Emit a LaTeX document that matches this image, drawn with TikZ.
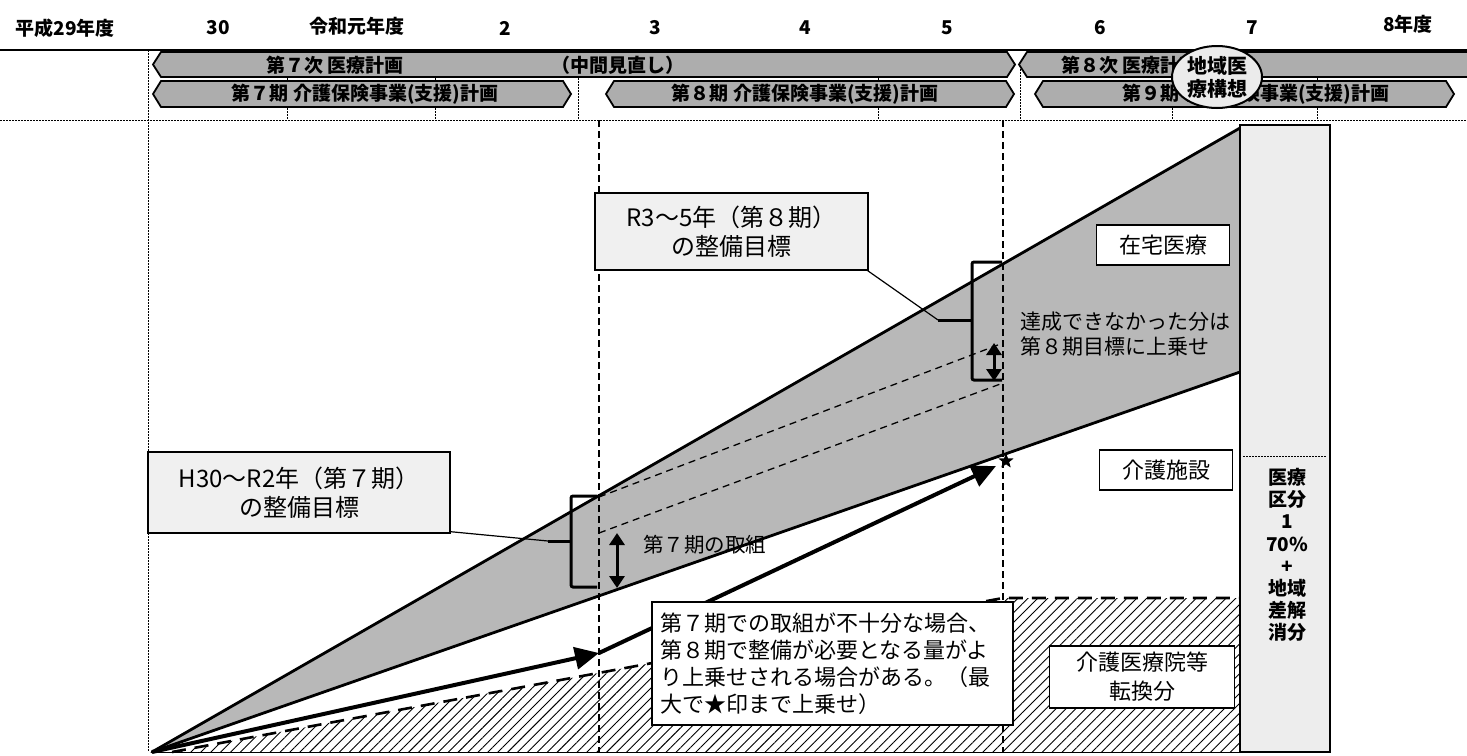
\documentclass[tikz,border=0pt]{standalone}
\usepackage{fontspec}
\setmainfont{Noto Sans CJK JP}
\usetikzlibrary{arrows.meta,shapes.geometric,patterns.meta}
\newcommand\planbar[4]{%
  \draw[planbarstyle] (#1,{(#3+#4)/2}) -- (#1+8,#3) -- (#2-8,#3) -- (#2,{(#3+#4)/2}) -- (#2-8,#4) -- (#1+8,#4) -- cycle;}
\begin{document}
\begin{tikzpicture}[x=1pt,y=-1pt,
  planbarstyle/.style={draw=black,line width=1.8pt,fill=black!32},
  yr/.style={font=\fontsize{19}{22}\selectfont\bfseries,inner sep=0},
  bartxt/.style={font=\fontsize{19}{22}\selectfont\bfseries,inner sep=0},
  dotln/.style={line width=0.9pt,dash pattern=on 1.5pt off 1.5pt},
  dashv/.style={line width=1.6pt,dash pattern=on 7pt off 4pt},
  bandln/.style={line width=2.8pt,line cap=round},
  dashin/.style={line width=1.3pt,dash pattern=on 7pt off 5pt},
  brk/.style={line width=3pt,rounded corners=2pt},
  lead/.style={line width=1.2pt},
  goalbox/.style={draw=black,line width=1.4pt,fill=black!6,align=center,font=\fontsize{24}{29}\selectfont,inner sep=0},
  catbox/.style={draw=black,line width=1.6pt,fill=white,align=center,font=\fontsize{22}{29}\selectfont,inner sep=0},
  dblarr/.style={line width=3pt,{Triangle[length=12pt,width=15pt]}-{Triangle[length=12pt,width=15pt]}},
  bigarr/.style={line width=4pt,-{Triangle[length=24pt,width=22pt]}}
]
\useasboundingbox (0,0) rectangle (1467,755);
% ---------- header ----------
\node[yr] (y29) at (65,28) {平成29年度};
\node[yr] (y30) at (218,28) {30};
\node[yr] (r1) at (357,26) {令和元年度};
\node[yr] (y2) at (505,28) {2};
\node[yr] (y3) at (655,28) {3};
\node[yr] (y4) at (805,28) {4};
\node[yr] (y5) at (947,28) {5};
\node[yr] (y6) at (1100,28) {6};
\node[yr] (y7) at (1252,28) {7};
\node[yr] (y8) at (1408,24) {8年度};
\draw[line width=2.4pt] (0,50) -- (1467,50);
% ticks and dotted guides
\foreach \tx in {287,435,578,878,1020,1172,1317} \draw[dotln] (\tx,66) -- (\tx,120);
\draw[dotln] (0,120) -- (1467,120);
\draw[dotln] (148,50) -- (148,752);
% plan bars
\planbar{153}{1015}{52}{77}
\planbar{1019}{1490}{52}{77}
\planbar{153}{571}{81}{107}
\planbar{606}{1014}{81}{107}
\planbar{1035}{1454}{81}{107}
\node[bartxt] (b7ji) at (335,65) {第７次 医療計画};
\node[bartxt] (b7mid) at (618,65) {（中間見直し）};
\node[bartxt] (b8ji) at (1130,65) {第８次 医療計画};
\node[bartxt] (b7ki) at (365,94) {第７期 介護保険事業(支援)計画};
\node[bartxt] (b8ki) at (805,94) {第８期 介護保険事業(支援)計画};
\node[bartxt] (b9ki) at (1256,94) {第９期 介護保険事業(支援)計画};
\node[ellipse,draw=black,line width=2pt,fill=black!8,minimum width=90pt,minimum height=62pt,inner sep=0,align=center,font=\fontsize{20}{23}\selectfont\bfseries] (kousou) at (1217,77) {地域医\\療構想};
% ---------- chart ----------
\coordinate (apex) at (152,752);
\coordinate (upR) at (1240,128);
\coordinate (loR) at (1240,372);
\fill[black!28] (apex) -- (upR) -- (loR) -- cycle;
\fill[pattern={Lines[angle=45,distance=7pt,line width=0.9pt]}] (172,752) -- (1003,598) -- (1240,598) -- (1240,752) -- cycle;
\draw[line width=2.6pt,dash pattern=on 14pt off 9pt] (172,752) -- (1003,598) -- (1240,598);
\draw[line width=0.8pt] (152,752) -- (1240,752);
% dashed verticals
\draw[dashv] (599,120) -- (599,752);
\draw[dashv] (1003,120) -- (1003,752);
% band edges
\draw[bandln] (apex) -- (upR);
\draw[bandln] (apex) -- (loR);
% inner dashed lines
\coordinate (t7a) at (599,497);
\coordinate (t7b) at (599,533);
\coordinate (t8a) at (1003,343);
\coordinate (t8b) at (1003,383);
\draw[dashin] (t7a) -- (t8a);
\draw[dashin] (t7b) -- (t8b);
% right column
\node[draw=black,line width=2.5pt,fill=black!7,minimum width=90pt,minimum height=627pt,inner sep=0] (col) at (1285,438.5) {};
\draw[dotln] (1243,456) -- (1327,456);
\node[align=center,font=\fontsize{19}{22.2}\selectfont\bfseries,inner sep=0] (coltxt) at (1287,555) {医療\\区分\\1\\70\%\\+\\地域\\差解\\消分};
% thick progress arrow
\coordinate (mid7) at (599,653);
\node[star,star points=5,star point ratio=2.4,fill=black,minimum size=16pt,inner sep=0] (star) at (1006,461) {};
\draw[bigarr] (apex) -- (mid7);
\draw[bigarr] (mid7) -- (996,466);
% brackets
\draw[brk] (597,496) -| (571,587) -- (597,587);
\draw[brk] (571,541) -- (548,541);
\draw[brk] (1002,262) -| (972,380) -- (1002,380);
\draw[brk] (972,320) -- (938,320);
\coordinate (p7) at (548,541);
\coordinate (p8) at (938,320);
% double arrows
\draw[dblarr] (617,533) -- (617,588);
\draw[dblarr] (994,343) -- (994,381);
% goal boxes
\node[goalbox,minimum width=302pt,minimum height=81pt] (g7) at (299,492.5) {H30～R2年（第７期）\\の整備目標};
\node[goalbox,minimum width=273pt,minimum height=77pt] (g8) at (731.5,231.5) {R3～5年（第８期）\\の整備目標};
\draw[lead] (g7.south east) ++(0,-2) -- (p7);
\draw[lead] (g8.south east) ++(-1,0) -- (p8);
% labels
\node[anchor=west,font=\fontsize{20.5}{24}\selectfont,inner sep=0] (tori7) at (643,545) {第７期の取組};
\node[anchor=west,align=left,font=\fontsize{21}{25}\selectfont,inner sep=0] (tassei) at (1020,334) {達成できなかった分は\\第８期目標に上乗せ};
\node[catbox,minimum width=133pt,minimum height=40pt] (zaitaku) at (1163,245) {在宅医療};
\node[catbox,minimum width=133pt,minimum height=40pt] (shisetsu) at (1166,470) {介護施設};
\node[catbox,minimum width=185pt,minimum height=62pt] (iryoin) at (1142,677) {介護医療院等\\転換分};
\node[draw=black,line width=1.4pt,fill=white,align=left,text width=345pt,inner xsep=8pt,minimum height=123pt,font=\fontsize{22}{27}\selectfont] (note) at (832.5,663.5) {第７期での取組が不十分な場合、\\第８期で整備が必要となる量がよ\\り上乗せされる場合がある。（最\\大で★印まで上乗せ）};
\end{tikzpicture}
\end{document}
